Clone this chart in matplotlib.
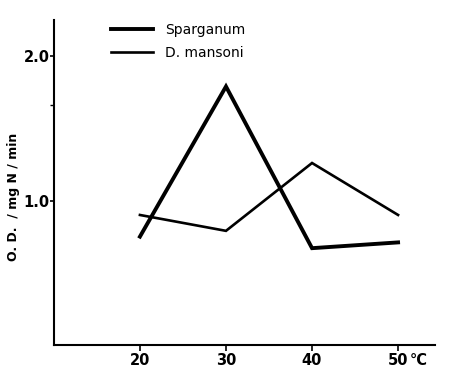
import matplotlib
matplotlib.use("Agg")
import matplotlib.pyplot as plt

# temperature (°C)
temps = [20, 30, 40, 50]
# O.D. / mg N / min
sparganum = [0.75, 1.79, 0.67, 0.71]
d_mansoni = [0.90, 0.79, 1.26, 0.90]

x_ticks = [20, 30, 40, 50]
x_labels = ["20", "30", "40", "50"]
y_ticks = [1.0, 2.0]
y_labels = ["1.0", "2.0"]

plt.rcParams['font.family'] = ['DejaVu Sans']

fig = plt.figure(figsize=(4.49, 3.79), dpi=100)
ax = fig.add_axes([0.120, 0.090, 0.849, 0.857])

ax.plot(temps, sparganum, color='black', lw=2.8, solid_joinstyle='miter', label='Sparganum')
ax.plot(temps, d_mansoni, color='black', lw=1.9, solid_joinstyle='miter', label='D. mansoni')

ax.set_xlim(10, 54.3)
ax.set_ylim(0, 2.25)

ax.set_xticks(x_ticks)
ax.set_xticklabels(x_labels, fontsize=10.5, fontweight='bold')
ax.set_yticks(y_ticks)
ax.set_yticklabels(y_labels, fontsize=10.5, fontweight='bold')
ax.set_yticks([1.66], minor=True)
ax.tick_params(axis='x', direction='out', length=4, width=1.2, pad=1.5)
ax.tick_params(axis='y', direction='out', length=3, width=1.2, pad=0)
ax.tick_params(axis='y', which='minor', length=3, width=1.0)

for s in ['top', 'right']:
    ax.spines[s].set_visible(False)
for s in ['left', 'bottom']:
    ax.spines[s].set_linewidth(1.5)

ax.text(51.3, -0.111, "°C", fontsize=10.5, fontweight='bold', ha='left', va='center',
        transform=ax.transData)

ax.set_ylabel("O. D.  / mg N / min", fontsize=9, fontweight='bold')
ax.yaxis.set_label_coords(-0.089, 0.455)

leg = ax.legend(loc='upper left', bbox_to_anchor=(0.117, 1.031), frameon=False,
                fontsize=10, handlelength=3.0, handletextpad=0.9, labelspacing=0.65)

fig.savefig("out.png", dpi=100)
